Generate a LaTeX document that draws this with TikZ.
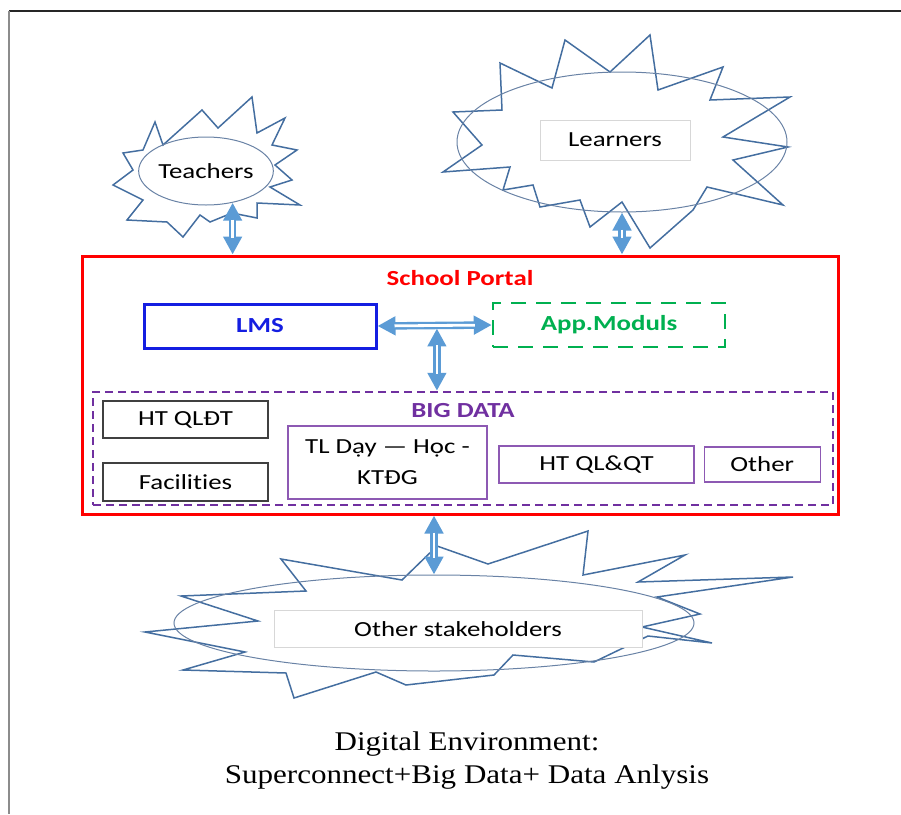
\documentclass[tikz,border=0pt]{standalone}
\usepackage{fontspec}
\setmainfont[FakeStretch=1.15]{Liberation Serif}
\newfontfamily\diagfont[FakeStretch=1.25,Ligatures=NoCommon]{Carlito}
\usetikzlibrary{positioning,arrows.meta,shapes.geometric,calc}
\definecolor{burstblue}{RGB}{68,110,160}
\definecolor{ovalblue}{RGB}{105,130,165}
\definecolor{arrblue}{RGB}{91,155,213}
\definecolor{lmsblue}{RGB}{20,30,225}
\definecolor{appgreen}{RGB}{0,176,80}
\definecolor{bdpurple}{RGB}{112,48,160}
\definecolor{boxgray}{RGB}{64,64,64}
\definecolor{lightbox}{RGB}{215,215,215}

\begin{document}
\begin{tikzpicture}[x=1pt,y=-1pt,
  every node/.style={font=\diagfont\fontsize{21.5}{25}\selectfont,inner sep=0pt},
  bold/.style={font=\diagfont\bfseries\fontsize{21.5}{25}\selectfont},
  burst/.style={draw=burstblue,line width=1.5pt},
  oval/.style={ellipse,draw=ovalblue,line width=1pt},
  lbox/.style={draw=lightbox,line width=0.8pt,fill=white},
  gbox/.style={draw=boxgray,line width=2pt,minimum width=165pt},
  pbox/.style={draw=bdpurple!80,line width=1.2pt,minimum height=37pt},
  arr/.style={draw=arrblue,line width=7.5pt,
    {Triangle[width=18pt,length=18pt]}-{Triangle[width=18pt,length=18pt]},
    postaction={draw=white,line width=2.8pt,arrows=-,shorten <=17pt,shorten >=17pt}}]

\useasboundingbox (0,0) rectangle (901,814);

% frame
\draw[black!85,line width=1.5pt] (9,11) -- (901,11);
\draw[black!45,line width=1.5pt] (9,11) -- (9,814);

% Teachers
\draw[burst] (155,122) -- (163,145) -- (202,110) -- (218,128) -- (252,97) -- (257,133)
  -- (285,118) -- (272,145) -- (297,150) -- (275,165) -- (292,180) -- (270,187)
  -- (300,205) -- (257,203) -- (257,218) -- (232,213) -- (210,222) -- (200,215)
  -- (183,237) -- (167,222) -- (127,220) -- (143,200) -- (113,185) -- (133,170)
  -- (123,153) -- (143,150) -- cycle;
\node[oval,minimum width=132pt,minimum height=68pt] (teach) at (206,171) {Teachers};

% Learners
\draw[burst] (565,40) -- (610,72) -- (650,35) -- (658,90) -- (723,67) -- (710,100)
  -- (790,97) -- (723,137) -- (788,147) -- (733,160) -- (783,205) -- (707,187)
  -- (693,210) -- (650,248) -- (622,202) -- (590,227) -- (580,200) -- (540,207)
  -- (533,185) -- (503,190) -- (510,167) -- (443,172) -- (482,145) -- (453,112)
  -- (502,110) -- (500,63) -- (552,88) -- cycle;
\node[oval,minimum width=330pt,minimum height=140pt] (learn) at (622,142) {};
\node[lbox,minimum width=150pt,minimum height=40pt] (learnbox) at (615,140) {Learners};

% Other stakeholders
\draw[burst] (145,632) -- (258,621) -- (181,596) -- (306,591) -- (281,559) -- (402,580)
  -- (437,546) -- (488,564) -- (588,531) -- (583,575) -- (685,555) -- (638,582)
  -- (793,577) -- (657,597) -- (700,614) -- (642,627) -- (712,643) -- (648,636)
  -- (594,662) -- (513,655) -- (494,675) -- (406,685) -- (376,672) -- (294,698)
  -- (286,673) -- (183,670) -- (245,652) -- cycle;
\node[oval,minimum width=520pt,minimum height=96pt] (other) at (434,623) {};
\node[lbox,minimum width=368pt,minimum height=37pt] (otherbox) at (458,629) {Other stakeholders};

% School Portal
\node[draw=red,line width=3pt,minimum width=756pt,minimum height=258pt] (portal) at (460,385) {};
\node[bold,text=red] (portaltitle) at (460,278) {School Portal};
\node[bold,draw=lmsblue,line width=3pt,minimum width=232pt,minimum height=44pt,text=lmsblue] (lms) at (260,326) {LMS};
\node[bold,draw=appgreen,line width=2.5pt,dash pattern=on 15pt off 10pt,minimum width=232pt,
  minimum height=44pt,text=appgreen] (app) at (609,325) {App.Moduls};

% BIG DATA
\node[draw=bdpurple,line width=2.5pt,dash pattern=on 8pt off 5pt,minimum width=740pt,
  minimum height=113pt] (bigdata) at (463,448.5) {};
\node[bold,text=bdpurple] (bdtitle) at (463,411) {BIG DATA};
\node[gbox,minimum height=37pt] (qldt) at (185.5,419.5) {HT QLĐT};
\node[gbox,minimum height=38pt,below=23pt of qldt] (fac) {Facilities};
\node[pbox,minimum width=199pt,minimum height=73pt,align=center] (tl) at (387.5,462.5) {TL Dạy — Học -\\[6pt]KTĐG};
\node[pbox,minimum width=195pt] (qlqt) at (596.5,464.5) {HT QL\&QT};
\node[pbox,minimum width=116pt,minimum height=35pt,right=9pt of qlqt] (oth) {Other};

% connectors
\coordinate (junc) at ($(lms.east)!0.52!(app.west)+(0,3)$);
\draw[arr] (lms.east) -- (app.west);
\draw[arr] (junc) -- (junc |- bigdata.north);
\draw[arr] (teach.-50) -- (teach.-50 |- portal.north);
\draw[arr] (learn.south) -- (learn.south |- portal.north);
\draw[arr] (portal.south -| other.north) -- (other.north);

% caption
\node[font=\rmfamily\fontsize{27}{33}\selectfont,align=center] (caption) at (467,761)
  {Digital Environment:\\Superconnect+Big Data+ Data Anlysis};
\end{tikzpicture}
\end{document}
